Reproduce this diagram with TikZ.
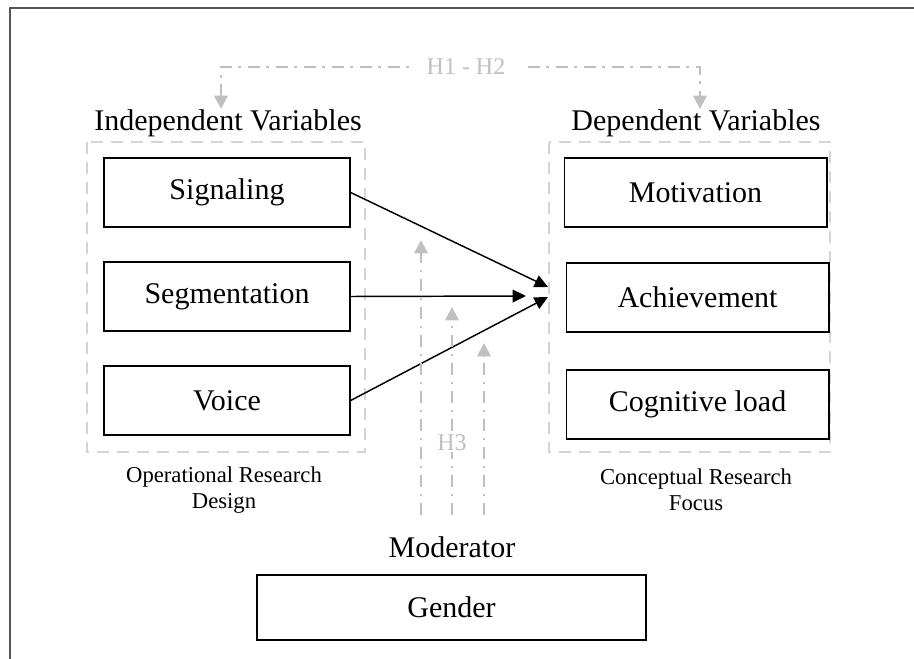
\documentclass[tikz,border=0pt]{standalone}
\usepackage{fontspec}
\setmainfont{Liberation Serif}
\usetikzlibrary{arrows.meta, positioning}
\definecolor{grisMarco}{RGB}{85, 85, 85}
\definecolor{grisCaja}{RGB}{212, 212, 212}
\definecolor{grisHipo}{RGB}{192, 192, 192}

\begin{document}
\begin{tikzpicture}[x=0.75pt, y=-0.75pt,
    caja/.style={draw=black, line width=1pt, minimum width=184.5pt, minimum height=51.75pt, font=\fontsize{22.5}{24}\selectfont},
    cajaDer/.style={caja, minimum width=197pt},
    titulo/.style={font=\fontsize{22.5}{24}\selectfont},
    nota/.style={align=center, font=\fontsize{17}{19.5}\selectfont},
    grupo/.style={draw=grisCaja, line width=2.2pt, dash pattern=on 9pt off 6pt},
    hipo/.style={draw=grisHipo, line width=1.8pt, dash pattern=on 9pt off 5pt on 2pt off 5pt},
    flecha/.style={line width=1.1pt, -{Triangle[length=10pt, width=9.5pt]}}]
            \useasboundingbox (0,0) rectangle (914,659);
            % Marco exterior
            \draw[grisMarco, line width=1.5pt] (10,659) -- (10,8) -- (914,8);

            % Grupos punteados
            \draw[grupo] (87,142) rectangle (365,452);
            \draw[grupo] (549,142) rectangle (830,452);

            % Variables independientes
            \node[titulo] (indep) at (228,123) {Independent Variables};
            \node[caja] (sig) at (227,192.5) {Signaling};
            \node[caja] (seg) at (227,296.5) {Segmentation};
            \node[caja] (voz) at (227,400.5) {Voice};
            \node[nota] (oper) at (224,490) {Operational Research\\Design};

            % Variables dependientes
            \node[titulo] (dep) at (696,123) {Dependent Variables};
            \node[cajaDer] (mot) at (695.5,192.5) {Motivation};
            \node[cajaDer] (logro) at (697.5,297.5) {Achievement};
            \node[cajaDer] (carga) at (697.5,404.5) {Cognitive load};
            \node[nota] (conc) at (696,490) {Conceptual Research\\Focus};

            % Moderador
            \node[titulo] (modt) at (452,547) {Moderator};
            \node[caja, minimum width=291.75pt, minimum height=48.75pt] (gen) at (451.5,607.5) {Gender};

            % Flechas principales
            \coordinate (finA) at (548,287);
            \coordinate (finB) at (526,296);
            \coordinate (finC) at (548,297);
            \draw[flecha] (sig.east) -- (finA);
            \draw[flecha] (seg.east) -- (finB);
            \draw[flecha] (voz.east) -- (finC);

            % H1 - H2
            \coordinate (h1a) at (221,109);
            \coordinate (h1b) at (700,109);
            \draw[hipo, {Triangle[length=10pt, width=10pt]}-{Triangle[length=10pt, width=10pt]}]
                (h1a) -- (221,67) -- (700,67) -- (h1b);
            \node[fill=white, text=grisHipo, font=\fontsize{18}{20}\selectfont, inner xsep=12pt] (h12) at (466,67) {H1 - H2};

            % H3
            \coordinate (m1) at (421,515);
            \coordinate (m2) at (452,515);
            \coordinate (m3) at (484,515);
            \draw[hipo, -{Triangle[length=10pt, width=10pt]}] (m1) -- (421,240);
            \draw[hipo, -{Triangle[length=10pt, width=10pt]}] (m2) -- (452,307);
            \draw[hipo, -{Triangle[length=10pt, width=10pt]}] (m3) -- (484,343);
            \node[fill=white, text=grisHipo, font=\fontsize{18}{20}\selectfont, inner sep=1pt] (h3) at (452,443) {H3};
        \end{tikzpicture}
\end{document}
